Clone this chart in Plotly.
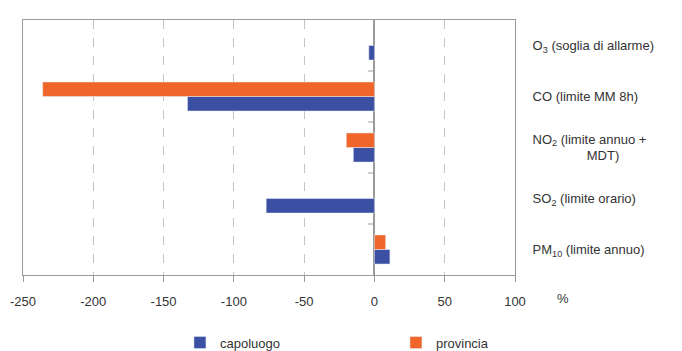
import plotly.graph_objects as go

# Pollutant categories, listed bottom to top as plotted
categories = [
    "PM<sub>10</sub> (limite annuo)",
    "SO<sub>2</sub> (limite orario)",
    "NO<sub>2</sub> (limite annuo +<br>&nbsp;&nbsp;&nbsp;&nbsp;&nbsp;&nbsp;&nbsp;&nbsp;&nbsp;&nbsp;&nbsp;&nbsp;&nbsp;&nbsp;&nbsp;MDT)",
    "CO (limite MM 8h)",
    "O<sub>3</sub> (soglia di allarme)",
]
capoluogo = [11, -77, -15, -133, -4]
provincia = [8, None, -20, -236, None]

x_ticks = [-250, -200, -150, -100, -50, 0, 50, 100]
x_tick_labels = ["-250", "-200", "-150", "-100", "-50", "0", "50", "100"]

BLUE = "#3B4FA3"
ORANGE = "#F0652A"
AXIS = "#9a9a9a"
TEXT = "#333333"
FONT = "Liberation Sans, Arial, sans-serif"

fig = go.Figure()
fig.add_trace(go.Bar(y=categories, x=capoluogo, name="capoluogo",
                     orientation="h", marker_color=BLUE))
fig.add_trace(go.Bar(y=categories, x=provincia, name="provincia",
                     orientation="h", marker_color=ORANGE))

# short tick marks on the zero line between categories
for i in range(len(categories) - 1):
    fig.add_shape(type="line", xref="x", yref="y",
                  x0=-4.5, x1=0, y0=i + 0.5, y1=i + 0.5,
                  line=dict(color=AXIS, width=1))

fig.add_annotation(text="%", xref="paper", yref="paper", x=1.0976, y=-0.094,
                   showarrow=False, font=dict(size=13, color=TEXT, family=FONT),
                   xanchor="center", yanchor="middle")

fig.update_layout(
    width=682, height=351,
    margin=dict(l=23, r=167, t=20, b=76, autoexpand=False),
    plot_bgcolor="white", paper_bgcolor="white",
    barmode="group", bargap=0.43, bargroupgap=0,
    font=dict(family=FONT, size=13, color=TEXT),
    showlegend=True,
    legend=dict(orientation="h", x=0.319, xanchor="left",
                yref="container", y=0.024, yanchor="middle",
                entrywidth=171, itemwidth=30, traceorder="normal",
                font=dict(size=13, color=TEXT, family=FONT)),
    xaxis=dict(range=[-250, 100], tickvals=x_ticks, ticktext=x_tick_labels,
               showgrid=True,
               gridcolor="#c4c4c4", griddash="dash", gridwidth=1,
               zeroline=True, zerolinecolor=AXIS, zerolinewidth=1.5,
               showline=True, linecolor=AXIS, linewidth=1, mirror=True,
               ticks="outside", ticklen=6, tickcolor=AXIS,
               ticklabelstandoff=8,
               tickfont=dict(size=13, color=TEXT, family=FONT)),
    yaxis=dict(side="right", showgrid=False, zeroline=False,
               showline=True, linecolor=AXIS, linewidth=1, mirror=True,
               ticks="", ticklabelstandoff=14,
               tickfont=dict(size=13, color=TEXT, family=FONT)),
)

fig.write_html("out.html")
